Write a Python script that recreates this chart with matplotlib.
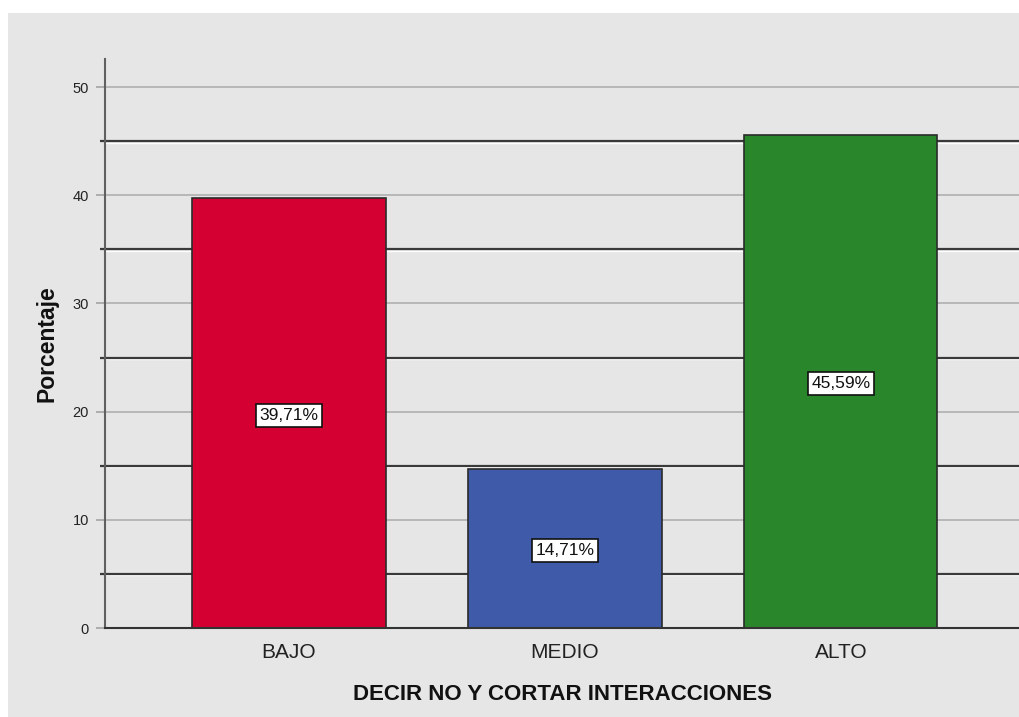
import matplotlib
matplotlib.use("Agg")
import matplotlib.pyplot as plt
from matplotlib.patches import Rectangle
import numpy as np

categories = ["BAJO", "MEDIO", "ALTO"]
percentages = [39.71, 14.71, 45.59]
value_labels = ["39,71%", "14,71%", "45,59%"]
bar_colors = ["#D50032", "#3F5AA8", "#2A862A"]
major_ticks = [0, 10, 20, 30, 40, 50]
minor_ticks = [5, 15, 25, 35, 45]

plt.rcParams["font.family"] = ["Liberation Sans", "DejaVu Sans"]

W, H = 1020, 717
fig = plt.figure(figsize=(W / 100, H / 100), dpi=100)
fig.patch.set_facecolor("white")
# gray panel behind everything
fig.patches.append(Rectangle((8 / W, 0), 1, (H - 13) / H, transform=fig.transFigure,
                             facecolor="#E6E6E6", edgecolor="none", zorder=-10))

ax = fig.add_axes([105 / W, 1 - 628 / H, 1 - 105 / W, (628 - 59) / H])
ax.set_facecolor("none")

x = np.arange(len(categories))
ax.set_xlim(-0.667, 2.649)
ax.set_ylim(0, 52.6)

# grid: light at multiples of 10, dark at the 5s (with a faint white highlight below)
for y in major_ticks[1:]:
    ax.axhline(y, color="#B4B4B4", lw=1.3, zorder=1)
for y in minor_ticks:
    ax.axhline(y - 0.12, color="#FFFFFF", lw=1.0, zorder=1)
    ax.axhline(y, color="#3A3A3A", lw=1.6, zorder=1.1)

bars = ax.bar(x, percentages, width=0.70, color=bar_colors,
              edgecolor="#2B2B2B", linewidth=1.2, zorder=3)

for xi, val, lab in zip(x, percentages, value_labels):
    ax.text(xi, val / 2 - 0.2, lab, ha="center", va="center", fontsize=12.5,
            color="#111111", zorder=5,
            bbox=dict(boxstyle="square,pad=0.22", facecolor="white",
                      edgecolor="#111111", linewidth=1.2))

ax.set_xticks(x)
ax.set_xticklabels(categories, fontsize=15, color="#222222")
ax.tick_params(axis="x", length=0, pad=11)

ax.set_yticks(major_ticks)
ax.set_yticklabels([str(t) for t in major_ticks], fontsize=10.5, color="#222222")
ax.set_yticks(minor_ticks, minor=True)
ax.tick_params(axis="y", which="major", length=6.5, width=1.3, color="#A8A8A8", pad=5)
ax.tick_params(axis="y", which="minor", length=3.6, width=1.6, color="#3A3A3A")

for side in ["top", "right"]:
    ax.spines[side].set_visible(False)
ax.spines["left"].set_color("#606060")
ax.spines["left"].set_linewidth(1.5)
ax.spines["left"].set_zorder(4)
ax.spines["bottom"].set_color("#333333")
ax.spines["bottom"].set_linewidth(1.5)
ax.spines["bottom"].set_zorder(4)

ax.set_xlabel("DECIR NO Y CORTAR INTERACCIONES", fontsize=16, fontweight="bold",
              labelpad=16, color="#111111")
ax.set_ylabel("Porcentaje", fontsize=16.5, fontweight="bold", labelpad=10,
              color="#111111")

fig.savefig("out.png", dpi=100)
